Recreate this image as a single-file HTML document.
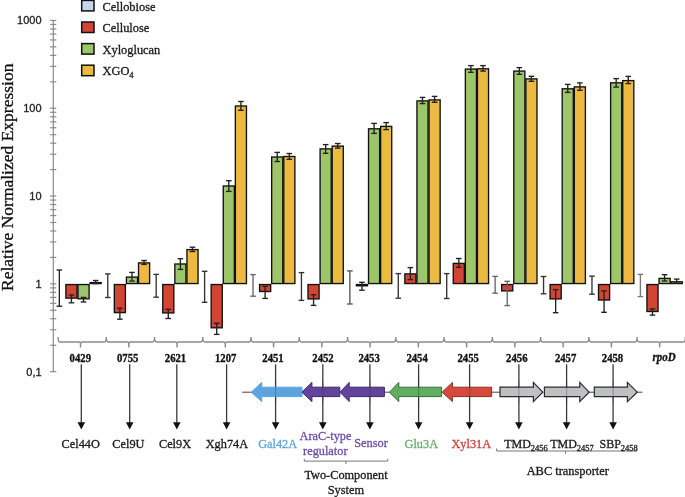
<!DOCTYPE html><html><head><meta charset="utf-8"><style>html,body{margin:0;padding:0;background:#fff;overflow:hidden}svg{display:block;will-change:transform}text{font-family:"Liberation Serif",serif;stroke-width:0.3px}</style></head><body>
<svg width="685" height="497" viewBox="0 0 685 497">
<rect width="685" height="497" fill="#fff"/>
<g stroke="#8a8a8a" stroke-width="1.2" fill="none">
<line x1="53.3" y1="20" x2="53.3" y2="372"/>
<line x1="50.2" y1="371.65" x2="56.3" y2="371.65"/>
<line x1="50.2" y1="345.22" x2="56.3" y2="345.22"/>
<line x1="50.2" y1="329.76" x2="56.3" y2="329.76"/>
<line x1="50.2" y1="318.79" x2="56.3" y2="318.79"/>
<line x1="50.2" y1="310.28" x2="56.3" y2="310.28"/>
<line x1="50.2" y1="303.33" x2="56.3" y2="303.33"/>
<line x1="50.2" y1="297.45" x2="56.3" y2="297.45"/>
<line x1="50.2" y1="292.36" x2="56.3" y2="292.36"/>
<line x1="50.2" y1="287.87" x2="56.3" y2="287.87"/>
<line x1="50.2" y1="283.85" x2="56.3" y2="283.85"/>
<line x1="50.2" y1="257.42" x2="56.3" y2="257.42"/>
<line x1="50.2" y1="241.96" x2="56.3" y2="241.96"/>
<line x1="50.2" y1="230.99" x2="56.3" y2="230.99"/>
<line x1="50.2" y1="222.48" x2="56.3" y2="222.48"/>
<line x1="50.2" y1="215.53" x2="56.3" y2="215.53"/>
<line x1="50.2" y1="209.65" x2="56.3" y2="209.65"/>
<line x1="50.2" y1="204.56" x2="56.3" y2="204.56"/>
<line x1="50.2" y1="200.07" x2="56.3" y2="200.07"/>
<line x1="50.2" y1="196.05" x2="56.3" y2="196.05"/>
<line x1="50.2" y1="169.62" x2="56.3" y2="169.62"/>
<line x1="50.2" y1="154.16" x2="56.3" y2="154.16"/>
<line x1="50.2" y1="143.19" x2="56.3" y2="143.19"/>
<line x1="50.2" y1="134.68" x2="56.3" y2="134.68"/>
<line x1="50.2" y1="127.73" x2="56.3" y2="127.73"/>
<line x1="50.2" y1="121.85" x2="56.3" y2="121.85"/>
<line x1="50.2" y1="116.76" x2="56.3" y2="116.76"/>
<line x1="50.2" y1="112.27" x2="56.3" y2="112.27"/>
<line x1="50.2" y1="108.25" x2="56.3" y2="108.25"/>
<line x1="50.2" y1="81.82" x2="56.3" y2="81.82"/>
<line x1="50.2" y1="66.36" x2="56.3" y2="66.36"/>
<line x1="50.2" y1="55.39" x2="56.3" y2="55.39"/>
<line x1="50.2" y1="46.88" x2="56.3" y2="46.88"/>
<line x1="50.2" y1="39.93" x2="56.3" y2="39.93"/>
<line x1="50.2" y1="34.05" x2="56.3" y2="34.05"/>
<line x1="50.2" y1="28.96" x2="56.3" y2="28.96"/>
<line x1="50.2" y1="24.47" x2="56.3" y2="24.47"/>
<line x1="50.2" y1="20.45" x2="56.3" y2="20.45"/>
</g>
<text x="41.6" y="24.35" text-anchor="end" style="font-family:'Liberation Sans',sans-serif;font-size:11px" fill="#222" stroke="#222" stroke-width="0.3">1000</text>
<text x="41.6" y="112.15" text-anchor="end" style="font-family:'Liberation Sans',sans-serif;font-size:11px" fill="#222" stroke="#222" stroke-width="0.3">100</text>
<text x="41.6" y="199.95" text-anchor="end" style="font-family:'Liberation Sans',sans-serif;font-size:11px" fill="#222" stroke="#222" stroke-width="0.3">10</text>
<text x="41.6" y="287.75" text-anchor="end" style="font-family:'Liberation Sans',sans-serif;font-size:11px" fill="#222" stroke="#222" stroke-width="0.3">1</text>
<text x="41.6" y="375.55" text-anchor="end" style="font-family:'Liberation Sans',sans-serif;font-size:11px" fill="#222" stroke="#222" stroke-width="0.3">0,1</text>
<text transform="translate(12.7,177.3) rotate(-90)" text-anchor="middle" font-size="17.5" fill="#111" stroke="#111">Relative Normalized Expression</text>
<rect x="81.7" y="0.40" width="12.3" height="10.5" fill="#c6d4ee" stroke="#111" stroke-width="1.5"/>
<text x="102.5" y="10.60" font-size="12.4" fill="#1a1a1a" stroke="#1a1a1a">Cellobiose</text>
<rect x="81.7" y="22.00" width="12.3" height="10.5" fill="#d24434" stroke="#111" stroke-width="1.5"/>
<text x="102.5" y="32.10" font-size="12.4" fill="#1a1a1a" stroke="#1a1a1a">Cellulose</text>
<rect x="81.7" y="43.60" width="12.3" height="10.5" fill="#9dc66a" stroke="#111" stroke-width="1.5"/>
<text x="102.5" y="53.60" font-size="12.4" fill="#1a1a1a" stroke="#1a1a1a">Xyloglucan</text>
<rect x="81.7" y="65.20" width="12.3" height="10.5" fill="#ecb941" stroke="#111" stroke-width="1.5"/>
<text x="102.5" y="75.10" font-size="12.4" fill="#1a1a1a" stroke="#1a1a1a">XGO<tspan font-size="8.5" dy="2.5">4</tspan></text>
<rect x="65.90" y="284.55" width="11.10" height="13.55" fill="#d24434" stroke="#111" stroke-width="1.35"/>
<rect x="78.00" y="284.55" width="11.10" height="14.25" fill="#9dc66a" stroke="#111" stroke-width="1.35"/>
<rect x="90.10" y="282.60" width="11.10" height="0.95" fill="#ecb941" stroke="#111" stroke-width="1.35"/>
<rect x="114.32" y="284.55" width="11.10" height="28.05" fill="#d24434" stroke="#111" stroke-width="1.35"/>
<rect x="126.42" y="277.10" width="11.10" height="6.45" fill="#9dc66a" stroke="#111" stroke-width="1.35"/>
<rect x="138.52" y="262.90" width="11.10" height="20.65" fill="#ecb941" stroke="#111" stroke-width="1.35"/>
<rect x="162.74" y="284.55" width="11.10" height="28.35" fill="#d24434" stroke="#111" stroke-width="1.35"/>
<rect x="174.84" y="264.00" width="11.10" height="19.55" fill="#9dc66a" stroke="#111" stroke-width="1.35"/>
<rect x="186.94" y="249.60" width="11.10" height="33.95" fill="#ecb941" stroke="#111" stroke-width="1.35"/>
<rect x="211.16" y="284.55" width="11.10" height="43.25" fill="#d24434" stroke="#111" stroke-width="1.35"/>
<rect x="223.26" y="186.00" width="11.10" height="97.55" fill="#9dc66a" stroke="#111" stroke-width="1.35"/>
<rect x="235.36" y="106.00" width="11.10" height="177.55" fill="#ecb941" stroke="#111" stroke-width="1.35"/>
<rect x="259.58" y="284.55" width="11.10" height="6.95" fill="#d24434" stroke="#111" stroke-width="1.35"/>
<rect x="271.68" y="157.00" width="11.10" height="126.55" fill="#9dc66a" stroke="#111" stroke-width="1.35"/>
<rect x="283.78" y="156.50" width="11.10" height="127.05" fill="#ecb941" stroke="#111" stroke-width="1.35"/>
<rect x="308.00" y="284.55" width="11.10" height="14.35" fill="#d24434" stroke="#111" stroke-width="1.35"/>
<rect x="320.10" y="148.90" width="11.10" height="134.65" fill="#9dc66a" stroke="#111" stroke-width="1.35"/>
<rect x="332.20" y="146.10" width="11.10" height="137.45" fill="#ecb941" stroke="#111" stroke-width="1.35"/>
<rect x="356.42" y="284.55" width="11.10" height="1.25" fill="#d24434" stroke="#111" stroke-width="1.35"/>
<rect x="368.52" y="128.80" width="11.10" height="154.75" fill="#9dc66a" stroke="#111" stroke-width="1.35"/>
<rect x="380.62" y="126.40" width="11.10" height="157.15" fill="#ecb941" stroke="#111" stroke-width="1.35"/>
<rect x="404.84" y="273.90" width="11.10" height="9.65" fill="#d24434" stroke="#111" stroke-width="1.35"/>
<rect x="416.94" y="100.90" width="11.10" height="182.65" fill="#9dc66a" stroke="#111" stroke-width="1.35"/>
<rect x="429.04" y="99.90" width="11.10" height="183.65" fill="#ecb941" stroke="#111" stroke-width="1.35"/>
<rect x="453.26" y="263.40" width="11.10" height="20.15" fill="#d24434" stroke="#111" stroke-width="1.35"/>
<rect x="465.36" y="69.10" width="11.10" height="214.45" fill="#9dc66a" stroke="#111" stroke-width="1.35"/>
<rect x="477.46" y="68.80" width="11.10" height="214.75" fill="#ecb941" stroke="#111" stroke-width="1.35"/>
<rect x="501.68" y="284.55" width="11.10" height="6.35" fill="#d24434" stroke="#111" stroke-width="1.35"/>
<rect x="513.78" y="71.10" width="11.10" height="212.45" fill="#9dc66a" stroke="#111" stroke-width="1.35"/>
<rect x="525.88" y="78.90" width="11.10" height="204.65" fill="#ecb941" stroke="#111" stroke-width="1.35"/>
<rect x="550.10" y="284.55" width="11.10" height="14.35" fill="#d24434" stroke="#111" stroke-width="1.35"/>
<rect x="562.20" y="88.80" width="11.10" height="194.75" fill="#9dc66a" stroke="#111" stroke-width="1.35"/>
<rect x="574.30" y="86.90" width="11.10" height="196.65" fill="#ecb941" stroke="#111" stroke-width="1.35"/>
<rect x="598.52" y="284.55" width="11.10" height="15.45" fill="#d24434" stroke="#111" stroke-width="1.35"/>
<rect x="610.62" y="82.80" width="11.10" height="200.75" fill="#9dc66a" stroke="#111" stroke-width="1.35"/>
<rect x="622.72" y="80.60" width="11.10" height="202.95" fill="#ecb941" stroke="#111" stroke-width="1.35"/>
<rect x="646.94" y="284.55" width="11.10" height="26.95" fill="#d24434" stroke="#111" stroke-width="1.35"/>
<rect x="659.04" y="278.40" width="11.10" height="5.15" fill="#9dc66a" stroke="#111" stroke-width="1.35"/>
<rect x="671.14" y="281.80" width="11.10" height="1.75" fill="#eac253" stroke="#111" stroke-width="1.35"/>
<g stroke="#222" stroke-width="1.35"><line x1="59.35" y1="270.00" x2="59.35" y2="306.20"/><line x1="56.55" y1="270.00" x2="62.15" y2="270.00"/><line x1="56.55" y1="306.20" x2="62.15" y2="306.20"/></g>
<g stroke="#222" stroke-width="1.35"><line x1="71.45" y1="295.00" x2="71.45" y2="302.80"/><line x1="68.65" y1="295.00" x2="74.25" y2="295.00"/><line x1="68.65" y1="302.80" x2="74.25" y2="302.80"/></g>
<g stroke="#222" stroke-width="1.35"><line x1="83.55" y1="297.40" x2="83.55" y2="302.00"/><line x1="80.75" y1="297.40" x2="86.35" y2="297.40"/><line x1="80.75" y1="302.00" x2="86.35" y2="302.00"/></g>
<g stroke="#222" stroke-width="1.35"><line x1="95.65" y1="280.50" x2="95.65" y2="283.60"/><line x1="92.85" y1="280.50" x2="98.45" y2="280.50"/><line x1="92.85" y1="283.60" x2="98.45" y2="283.60"/></g>
<g stroke="#333" stroke-width="1.35"><line x1="107.77" y1="273.90" x2="107.77" y2="297.50"/><line x1="104.97" y1="273.90" x2="110.57" y2="273.90"/><line x1="104.97" y1="297.50" x2="110.57" y2="297.50"/></g>
<g stroke="#222" stroke-width="1.35"><line x1="119.87" y1="308.20" x2="119.87" y2="319.20"/><line x1="117.07" y1="308.20" x2="122.67" y2="308.20"/><line x1="117.07" y1="319.20" x2="122.67" y2="319.20"/></g>
<g stroke="#222" stroke-width="1.35"><line x1="131.97" y1="272.40" x2="131.97" y2="281.10"/><line x1="129.17" y1="272.40" x2="134.77" y2="272.40"/><line x1="129.17" y1="281.10" x2="134.77" y2="281.10"/></g>
<g stroke="#222" stroke-width="1.35"><line x1="144.07" y1="260.50" x2="144.07" y2="264.40"/><line x1="141.27" y1="260.50" x2="146.87" y2="260.50"/><line x1="141.27" y1="264.40" x2="146.87" y2="264.40"/></g>
<g stroke="#333" stroke-width="1.35"><line x1="156.19" y1="274.40" x2="156.19" y2="297.20"/><line x1="153.39" y1="274.40" x2="158.99" y2="274.40"/><line x1="153.39" y1="297.20" x2="158.99" y2="297.20"/></g>
<g stroke="#222" stroke-width="1.35"><line x1="168.29" y1="309.30" x2="168.29" y2="318.50"/><line x1="165.49" y1="309.30" x2="171.09" y2="309.30"/><line x1="165.49" y1="318.50" x2="171.09" y2="318.50"/></g>
<g stroke="#222" stroke-width="1.35"><line x1="180.39" y1="258.70" x2="180.39" y2="269.40"/><line x1="177.59" y1="258.70" x2="183.19" y2="258.70"/><line x1="177.59" y1="269.40" x2="183.19" y2="269.40"/></g>
<g stroke="#222" stroke-width="1.35"><line x1="192.49" y1="247.20" x2="192.49" y2="251.50"/><line x1="189.69" y1="247.20" x2="195.29" y2="247.20"/><line x1="189.69" y1="251.50" x2="195.29" y2="251.50"/></g>
<g stroke="#333" stroke-width="1.35"><line x1="204.61" y1="271.30" x2="204.61" y2="302.30"/><line x1="201.81" y1="271.30" x2="207.41" y2="271.30"/><line x1="201.81" y1="302.30" x2="207.41" y2="302.30"/></g>
<g stroke="#222" stroke-width="1.35"><line x1="216.71" y1="323.30" x2="216.71" y2="334.40"/><line x1="213.91" y1="323.30" x2="219.51" y2="323.30"/><line x1="213.91" y1="334.40" x2="219.51" y2="334.40"/></g>
<g stroke="#222" stroke-width="1.35"><line x1="228.81" y1="180.70" x2="228.81" y2="191.40"/><line x1="226.01" y1="180.70" x2="231.61" y2="180.70"/><line x1="226.01" y1="191.40" x2="231.61" y2="191.40"/></g>
<g stroke="#222" stroke-width="1.35"><line x1="240.91" y1="101.50" x2="240.91" y2="110.30"/><line x1="238.11" y1="101.50" x2="243.71" y2="101.50"/><line x1="238.11" y1="110.30" x2="243.71" y2="110.30"/></g>
<g stroke="#666" stroke-width="1.35"><line x1="253.03" y1="274.60" x2="253.03" y2="296.20"/><line x1="250.23" y1="274.60" x2="255.83" y2="274.60"/><line x1="250.23" y1="296.20" x2="255.83" y2="296.20"/></g>
<g stroke="#222" stroke-width="1.35"><line x1="265.13" y1="286.30" x2="265.13" y2="298.40"/><line x1="262.33" y1="286.30" x2="267.93" y2="286.30"/><line x1="262.33" y1="298.40" x2="267.93" y2="298.40"/></g>
<g stroke="#222" stroke-width="1.35"><line x1="277.23" y1="152.40" x2="277.23" y2="161.50"/><line x1="274.43" y1="152.40" x2="280.03" y2="152.40"/><line x1="274.43" y1="161.50" x2="280.03" y2="161.50"/></g>
<g stroke="#222" stroke-width="1.35"><line x1="289.33" y1="153.50" x2="289.33" y2="159.30"/><line x1="286.53" y1="153.50" x2="292.13" y2="153.50"/><line x1="286.53" y1="159.30" x2="292.13" y2="159.30"/></g>
<g stroke="#333" stroke-width="1.35"><line x1="301.45" y1="272.60" x2="301.45" y2="300.40"/><line x1="298.65" y1="272.60" x2="304.25" y2="272.60"/><line x1="298.65" y1="300.40" x2="304.25" y2="300.40"/></g>
<g stroke="#222" stroke-width="1.35"><line x1="313.55" y1="294.70" x2="313.55" y2="305.40"/><line x1="310.75" y1="294.70" x2="316.35" y2="294.70"/><line x1="310.75" y1="305.40" x2="316.35" y2="305.40"/></g>
<g stroke="#222" stroke-width="1.35"><line x1="325.65" y1="144.60" x2="325.65" y2="153.30"/><line x1="322.85" y1="144.60" x2="328.45" y2="144.60"/><line x1="322.85" y1="153.30" x2="328.45" y2="153.30"/></g>
<g stroke="#222" stroke-width="1.35"><line x1="337.75" y1="143.50" x2="337.75" y2="148.10"/><line x1="334.95" y1="143.50" x2="340.55" y2="143.50"/><line x1="334.95" y1="148.10" x2="340.55" y2="148.10"/></g>
<g stroke="#555" stroke-width="1.35"><line x1="349.87" y1="270.90" x2="349.87" y2="304.00"/><line x1="347.07" y1="270.90" x2="352.67" y2="270.90"/><line x1="347.07" y1="304.00" x2="352.67" y2="304.00"/></g>
<g stroke="#222" stroke-width="1.35"><line x1="361.97" y1="282.30" x2="361.97" y2="290.20"/><line x1="359.17" y1="282.30" x2="364.77" y2="282.30"/><line x1="359.17" y1="290.20" x2="364.77" y2="290.20"/></g>
<g stroke="#222" stroke-width="1.35"><line x1="374.07" y1="123.40" x2="374.07" y2="133.40"/><line x1="371.27" y1="123.40" x2="376.87" y2="123.40"/><line x1="371.27" y1="133.40" x2="376.87" y2="133.40"/></g>
<g stroke="#222" stroke-width="1.35"><line x1="386.17" y1="122.60" x2="386.17" y2="129.60"/><line x1="383.37" y1="122.60" x2="388.97" y2="122.60"/><line x1="383.37" y1="129.60" x2="388.97" y2="129.60"/></g>
<g stroke="#333" stroke-width="1.35"><line x1="398.29" y1="273.60" x2="398.29" y2="298.20"/><line x1="395.49" y1="273.60" x2="401.09" y2="273.60"/><line x1="395.49" y1="298.20" x2="401.09" y2="298.20"/></g>
<g stroke="#222" stroke-width="1.35"><line x1="410.39" y1="267.60" x2="410.39" y2="279.60"/><line x1="407.59" y1="267.60" x2="413.19" y2="267.60"/><line x1="407.59" y1="279.60" x2="413.19" y2="279.60"/></g>
<g stroke="#222" stroke-width="1.35"><line x1="422.49" y1="97.40" x2="422.49" y2="103.60"/><line x1="419.69" y1="97.40" x2="425.29" y2="97.40"/><line x1="419.69" y1="103.60" x2="425.29" y2="103.60"/></g>
<g stroke="#222" stroke-width="1.35"><line x1="434.59" y1="96.40" x2="434.59" y2="102.30"/><line x1="431.79" y1="96.40" x2="437.39" y2="96.40"/><line x1="431.79" y1="102.30" x2="437.39" y2="102.30"/></g>
<g stroke="#333" stroke-width="1.35"><line x1="446.71" y1="273.60" x2="446.71" y2="298.50"/><line x1="443.91" y1="273.60" x2="449.51" y2="273.60"/><line x1="443.91" y1="298.50" x2="449.51" y2="298.50"/></g>
<g stroke="#222" stroke-width="1.35"><line x1="458.81" y1="258.50" x2="458.81" y2="267.30"/><line x1="456.01" y1="258.50" x2="461.61" y2="258.50"/><line x1="456.01" y1="267.30" x2="461.61" y2="267.30"/></g>
<g stroke="#222" stroke-width="1.35"><line x1="470.91" y1="65.60" x2="470.91" y2="72.30"/><line x1="468.11" y1="65.60" x2="473.71" y2="65.60"/><line x1="468.11" y1="72.30" x2="473.71" y2="72.30"/></g>
<g stroke="#222" stroke-width="1.35"><line x1="483.01" y1="65.60" x2="483.01" y2="71.10"/><line x1="480.21" y1="65.60" x2="485.81" y2="65.60"/><line x1="480.21" y1="71.10" x2="485.81" y2="71.10"/></g>
<g stroke="#666" stroke-width="1.35"><line x1="495.13" y1="276.40" x2="495.13" y2="293.20"/><line x1="492.33" y1="276.40" x2="497.93" y2="276.40"/><line x1="492.33" y1="293.20" x2="497.93" y2="293.20"/></g>
<g stroke="#666" stroke-width="1.35"><line x1="507.23" y1="281.30" x2="507.23" y2="305.60"/><line x1="504.43" y1="281.30" x2="510.03" y2="281.30"/><line x1="504.43" y1="305.60" x2="510.03" y2="305.60"/></g>
<g stroke="#222" stroke-width="1.35"><line x1="519.33" y1="67.60" x2="519.33" y2="74.30"/><line x1="516.53" y1="67.60" x2="522.13" y2="67.60"/><line x1="516.53" y1="74.30" x2="522.13" y2="74.30"/></g>
<g stroke="#222" stroke-width="1.35"><line x1="531.43" y1="76.30" x2="531.43" y2="81.30"/><line x1="528.63" y1="76.30" x2="534.23" y2="76.30"/><line x1="528.63" y1="81.30" x2="534.23" y2="81.30"/></g>
<g stroke="#333" stroke-width="1.35"><line x1="543.55" y1="276.50" x2="543.55" y2="293.80"/><line x1="540.75" y1="276.50" x2="546.35" y2="276.50"/><line x1="540.75" y1="293.80" x2="546.35" y2="293.80"/></g>
<g stroke="#222" stroke-width="1.35"><line x1="555.65" y1="289.60" x2="555.65" y2="312.70"/><line x1="552.85" y1="289.60" x2="558.45" y2="289.60"/><line x1="552.85" y1="312.70" x2="558.45" y2="312.70"/></g>
<g stroke="#222" stroke-width="1.35"><line x1="567.75" y1="84.40" x2="567.75" y2="92.40"/><line x1="564.95" y1="84.40" x2="570.55" y2="84.40"/><line x1="564.95" y1="92.40" x2="570.55" y2="92.40"/></g>
<g stroke="#222" stroke-width="1.35"><line x1="579.85" y1="82.90" x2="579.85" y2="90.30"/><line x1="577.05" y1="82.90" x2="582.65" y2="82.90"/><line x1="577.05" y1="90.30" x2="582.65" y2="90.30"/></g>
<g stroke="#333" stroke-width="1.35"><line x1="591.97" y1="276.10" x2="591.97" y2="294.20"/><line x1="589.17" y1="276.10" x2="594.77" y2="276.10"/><line x1="589.17" y1="294.20" x2="594.77" y2="294.20"/></g>
<g stroke="#222" stroke-width="1.35"><line x1="604.07" y1="290.90" x2="604.07" y2="312.30"/><line x1="601.27" y1="290.90" x2="606.87" y2="290.90"/><line x1="601.27" y1="312.30" x2="606.87" y2="312.30"/></g>
<g stroke="#222" stroke-width="1.35"><line x1="616.17" y1="78.60" x2="616.17" y2="87.10"/><line x1="613.37" y1="78.60" x2="618.97" y2="78.60"/><line x1="613.37" y1="87.10" x2="618.97" y2="87.10"/></g>
<g stroke="#222" stroke-width="1.35"><line x1="628.27" y1="76.40" x2="628.27" y2="83.60"/><line x1="625.47" y1="76.40" x2="631.07" y2="76.40"/><line x1="625.47" y1="83.60" x2="631.07" y2="83.60"/></g>
<g stroke="#777" stroke-width="1.35"><line x1="640.39" y1="274.40" x2="640.39" y2="296.60"/><line x1="637.59" y1="274.40" x2="643.19" y2="274.40"/><line x1="637.59" y1="296.60" x2="643.19" y2="296.60"/></g>
<g stroke="#222" stroke-width="1.35"><line x1="652.49" y1="309.00" x2="652.49" y2="315.10"/><line x1="649.69" y1="309.00" x2="655.29" y2="309.00"/><line x1="649.69" y1="315.10" x2="655.29" y2="315.10"/></g>
<g stroke="#222" stroke-width="1.35"><line x1="664.59" y1="274.70" x2="664.59" y2="281.00"/><line x1="661.79" y1="274.70" x2="667.39" y2="274.70"/><line x1="661.79" y1="281.00" x2="667.39" y2="281.00"/></g>
<g stroke="#222" stroke-width="1.35"><line x1="676.69" y1="279.10" x2="676.69" y2="283.10"/><line x1="673.89" y1="279.10" x2="679.49" y2="279.10"/><line x1="673.89" y1="283.10" x2="679.49" y2="283.10"/></g>
<path fill="none" stroke="#8a8a8a" stroke-width="1.4" d="
M58.0,337 Q58.0,342 60.0,342 L79.53,342 Q80.53,342 80.53,347.4 Q80.53,342 81.53,342 L104.25999999999999,342 Q106.25999999999999,342 106.25999999999999,337 Q106.25999999999999,342 108.25999999999999,342 L127.78999999999999,342 Q128.79,342 128.79,347.4 Q128.79,342 129.79,342 L152.51999999999998,342 Q154.51999999999998,342 154.51999999999998,337 Q154.51999999999998,342 156.51999999999998,342 L176.04999999999998,342 Q177.04999999999998,342 177.04999999999998,347.4 Q177.04999999999998,342 178.04999999999998,342 L200.77999999999997,342 Q202.77999999999997,342 202.77999999999997,337 Q202.77999999999997,342 204.77999999999997,342 L224.31,342 Q225.31,342 225.31,347.4 Q225.31,342 226.31,342 L249.04,342 Q251.04,342 251.04,337 Q251.04,342 253.04,342 L272.57,342 Q273.57,342 273.57,347.4 Q273.57,342 274.57,342 L297.3,342 Q299.3,342 299.3,337 Q299.3,342 301.3,342 L320.8299999999999,342 Q321.8299999999999,342 321.8299999999999,347.4 Q321.8299999999999,342 322.8299999999999,342 L345.55999999999995,342 Q347.55999999999995,342 347.55999999999995,337 Q347.55999999999995,342 349.55999999999995,342 L369.09,342 Q370.09,342 370.09,347.4 Q370.09,342 371.09,342 L393.82,342 Q395.82,342 395.82,337 Q395.82,342 397.82,342 L417.34999999999997,342 Q418.34999999999997,342 418.34999999999997,347.4 Q418.34999999999997,342 419.34999999999997,342 L442.08,342 Q444.08,342 444.08,337 Q444.08,342 446.08,342 L465.60999999999996,342 Q466.60999999999996,342 466.60999999999996,347.4 Q466.60999999999996,342 467.60999999999996,342 L490.34,342 Q492.34,342 492.34,337 Q492.34,342 494.34,342 L513.87,342 Q514.87,342 514.87,347.4 Q514.87,342 515.87,342 L538.6,342 Q540.6,342 540.6,337 Q540.6,342 542.6,342 L562.1299999999999,342 Q563.1299999999999,342 563.1299999999999,347.4 Q563.1299999999999,342 564.1299999999999,342 L586.8599999999999,342 Q588.8599999999999,342 588.8599999999999,337 Q588.8599999999999,342 590.8599999999999,342 L610.39,342 Q611.39,342 611.39,347.4 Q611.39,342 612.39,342 L635.12,342 Q637.12,342 637.12,337 Q637.12,342 639.12,342 L658.65,342 Q659.65,342 659.65,347.4 Q659.65,342 660.65,342 L683.38,342 Q685.38,342 685.38,337 "/>
<text transform="translate(80.30,361.8) scale(1,1.1)" text-anchor="middle" font-size="10.7" font-weight="bold" fill="#111" stroke="#111">0429</text>
<text transform="translate(127.70,361.8) scale(1,1.1)" text-anchor="middle" font-size="10.7" font-weight="bold" fill="#111" stroke="#111">0755</text>
<text transform="translate(175.50,361.8) scale(1,1.1)" text-anchor="middle" font-size="10.7" font-weight="bold" fill="#111" stroke="#111">2621</text>
<text transform="translate(225.70,361.8) scale(1,1.1)" text-anchor="middle" font-size="10.7" font-weight="bold" fill="#111" stroke="#111">1207</text>
<text transform="translate(273.00,361.8) scale(1,1.1)" text-anchor="middle" font-size="10.7" font-weight="bold" fill="#111" stroke="#111">2451</text>
<text transform="translate(323.00,361.8) scale(1,1.1)" text-anchor="middle" font-size="10.7" font-weight="bold" fill="#111" stroke="#111">2452</text>
<text transform="translate(369.10,361.8) scale(1,1.1)" text-anchor="middle" font-size="10.7" font-weight="bold" fill="#111" stroke="#111">2453</text>
<text transform="translate(417.10,361.8) scale(1,1.1)" text-anchor="middle" font-size="10.7" font-weight="bold" fill="#111" stroke="#111">2454</text>
<text transform="translate(468.20,361.8) scale(1,1.1)" text-anchor="middle" font-size="10.7" font-weight="bold" fill="#111" stroke="#111">2455</text>
<text transform="translate(516.80,361.8) scale(1,1.1)" text-anchor="middle" font-size="10.7" font-weight="bold" fill="#111" stroke="#111">2456</text>
<text transform="translate(565.60,361.8) scale(1,1.1)" text-anchor="middle" font-size="10.7" font-weight="bold" fill="#111" stroke="#111">2457</text>
<text transform="translate(612.50,361.8) scale(1,1.1)" text-anchor="middle" font-size="10.7" font-weight="bold" fill="#111" stroke="#111">2458</text>
<text transform="translate(664.2,361.2) scale(1,1.08)" text-anchor="middle" font-size="11" font-weight="bold" font-style="italic" fill="#111" stroke="#111">rpoD</text>
<g stroke="#444" stroke-width="1"><line x1="242.2" y1="392.2" x2="252" y2="392.2"/><line x1="384" y1="392.2" x2="390" y2="392.2"/><line x1="491" y1="392.2" x2="500" y2="392.2"/><line x1="589" y1="392.2" x2="594.5" y2="392.2"/><line x1="637" y1="392.2" x2="642.4" y2="392.2"/></g>
<g stroke="#3a3a3a" stroke-width="1.3">
<line x1="81.3" y1="364.3" x2="81.3" y2="424"/>
<line x1="129.7" y1="364.3" x2="129.7" y2="424"/>
<line x1="176.8" y1="364.3" x2="176.8" y2="424"/>
<line x1="226.6" y1="364.3" x2="226.6" y2="424"/>
<line x1="275.6" y1="364.3" x2="275.6" y2="424"/>
<line x1="322.8" y1="364.3" x2="322.8" y2="424"/>
<line x1="369.9" y1="364.3" x2="369.9" y2="424"/>
<line x1="418.6" y1="364.3" x2="418.6" y2="424"/>
<line x1="469.6" y1="364.3" x2="469.6" y2="424"/>
<line x1="518.9" y1="364.3" x2="518.9" y2="424"/>
<line x1="566.6" y1="364.3" x2="566.6" y2="424"/>
<line x1="613.1" y1="364.3" x2="613.1" y2="424"/>
</g>
<path d="M251.2,392.2 L261.8,382.4 L261.8,387.2 L302,387.2 L302,396.6 L261.8,396.6 L261.8,401.6 Z" fill="#5ca4de" stroke="#5ca4de" stroke-width="1" stroke-linejoin="miter"/>
<path d="M301.9,392.2 L311.9,382.4 L311.9,387.2 L339.8,387.2 L339.8,396.6 L311.9,396.6 L311.9,401.6 Z" fill="#62449e" stroke="#3b2b63" stroke-width="1" stroke-linejoin="miter"/>
<path d="M340,392.2 L349.2,382.4 L349.2,387.2 L384.4,387.2 L384.4,396.6 L349.2,396.6 L349.2,401.6 Z" fill="#62449e" stroke="#3b2b63" stroke-width="1" stroke-linejoin="miter"/>
<path d="M389.4,392.2 L398.8,382.4 L398.8,387.2 L441.6,387.2 L441.6,396.6 L398.8,396.6 L398.8,401.6 Z" fill="#62ae60" stroke="#3c6a3c" stroke-width="1" stroke-linejoin="miter"/>
<path d="M442.1,392.2 L452.4,382.4 L452.4,387.2 L491.6,387.2 L491.6,396.6 L452.4,396.6 L452.4,401.6 Z" fill="#d64a3c" stroke="#8a3028" stroke-width="1" stroke-linejoin="miter"/>
<path d="M542.8,392.2 L533.4,382.4 L533.4,387.2 L500,387.2 L500,396.6 L533.4,396.6 L533.4,401.6 Z" fill="#bfc0c4" stroke="#2a2a2a" stroke-width="1.2" stroke-linejoin="miter"/>
<path d="M589.1,392.2 L579.8,382.4 L579.8,387.2 L544.4,387.2 L544.4,396.6 L579.8,396.6 L579.8,401.6 Z" fill="#bfc0c4" stroke="#2a2a2a" stroke-width="1.2" stroke-linejoin="miter"/>
<path d="M637.2,392.2 L627.4,382.4 L627.4,387.2 L594.3,387.2 L594.3,396.6 L627.4,396.6 L627.4,401.6 Z" fill="#bfc0c4" stroke="#2a2a2a" stroke-width="1.2" stroke-linejoin="miter"/>
<g stroke="#333" stroke-width="1.2" opacity="0.3">
<line x1="275.6" y1="381" x2="275.6" y2="403"/>
<line x1="322.8" y1="381" x2="322.8" y2="403"/>
<line x1="369.9" y1="381" x2="369.9" y2="403"/>
<line x1="418.6" y1="381" x2="418.6" y2="403"/>
<line x1="469.6" y1="381" x2="469.6" y2="403"/>
<line x1="518.9" y1="381" x2="518.9" y2="403"/>
<line x1="566.6" y1="381" x2="566.6" y2="403"/>
<line x1="613.1" y1="381" x2="613.1" y2="403"/>
</g>
<g fill="#111">
<path d="M77.5,422.2 L85.1,422.2 L81.3,429.6 Z"/>
<path d="M125.89999999999999,422.2 L133.5,422.2 L129.7,429.6 Z"/>
<path d="M173.0,422.2 L180.60000000000002,422.2 L176.8,429.6 Z"/>
<path d="M222.79999999999998,422.2 L230.4,422.2 L226.6,429.6 Z"/>
<path d="M271.8,422.2 L279.40000000000003,422.2 L275.6,429.6 Z"/>
<path d="M319.0,422.2 L326.6,422.2 L322.8,429.6 Z"/>
<path d="M366.09999999999997,422.2 L373.7,422.2 L369.9,429.6 Z"/>
<path d="M414.8,422.2 L422.40000000000003,422.2 L418.6,429.6 Z"/>
<path d="M465.8,422.2 L473.40000000000003,422.2 L469.6,429.6 Z"/>
<path d="M515.1,422.2 L522.6999999999999,422.2 L518.9,429.6 Z"/>
<path d="M562.8000000000001,422.2 L570.4,422.2 L566.6,429.6 Z"/>
<path d="M609.3000000000001,422.2 L616.9,422.2 L613.1,429.6 Z"/>
</g>
<text x="80.7" y="447.5" text-anchor="middle" font-size="12.3" fill="#1a1a1a" stroke="#1a1a1a">Cel44O</text>
<text x="128.4" y="447.5" text-anchor="middle" font-size="12.3" fill="#1a1a1a" stroke="#1a1a1a">Cel9U</text>
<text x="175" y="447.5" text-anchor="middle" font-size="12.3" fill="#1a1a1a" stroke="#1a1a1a">Cel9X</text>
<text x="226.9" y="447.5" text-anchor="middle" font-size="12.3" fill="#1a1a1a" stroke="#1a1a1a">Xgh74A</text>
<text x="277.7" y="447.5" text-anchor="middle" font-size="12.3" fill="#5ca4de" stroke="#5ca4de">Gal42A</text>
<text x="371" y="447.2" text-anchor="middle" font-size="12.3" fill="#6a4fa8" stroke="#6a4fa8">Sensor</text>
<text x="421.3" y="447.5" text-anchor="middle" font-size="12.3" fill="#6aae6a" stroke="#6aae6a">Glu3A</text>
<text x="471.3" y="447.5" text-anchor="middle" font-size="12.3" fill="#d0453c" stroke="#d0453c">Xyl31A</text>
<text x="325.5" y="440.2" text-anchor="middle" font-size="12.3" fill="#6a4fa8" stroke="#6a4fa8">AraC-type</text>
<text x="325.3" y="455" text-anchor="middle" font-size="12.3" fill="#6a4fa8" stroke="#6a4fa8">regulator</text>
<text x="346" y="479.4" text-anchor="middle" font-size="12.3" fill="#1a1a1a" stroke="#1a1a1a">Two-Component</text>
<text x="345.9" y="493.5" text-anchor="middle" font-size="12.3" fill="#1a1a1a" stroke="#1a1a1a">System</text>
<path fill="none" stroke="#777" stroke-width="1" d="M304.3,458.8 L304.3,461.1 L387.8,461.1 L387.8,458.8 M345.9,461.1 L345.9,464"/>
<path fill="none" stroke="#777" stroke-width="1" d="M496.6,448.5 L496.6,451 L636.3,451 L636.3,448.5 M565.5,451 L565.5,453.8"/>
<text x="504.2" y="447.7" font-size="12" fill="#1a1a1a" stroke="#1a1a1a">TMD<tspan font-size="8.5" dy="3">2456</tspan></text>
<text x="550.2" y="447.7" font-size="12" fill="#1a1a1a" stroke="#1a1a1a">TMD<tspan font-size="8.5" dy="3">2457</tspan></text>
<text x="599.5" y="447.7" font-size="12" fill="#1a1a1a" stroke="#1a1a1a">SBP<tspan font-size="8.5" dy="3">2458</tspan></text>
<text x="567.8" y="475" text-anchor="middle" font-size="12.4" fill="#1a1a1a" stroke="#1a1a1a">ABC transporter</text>
</svg></body></html>
